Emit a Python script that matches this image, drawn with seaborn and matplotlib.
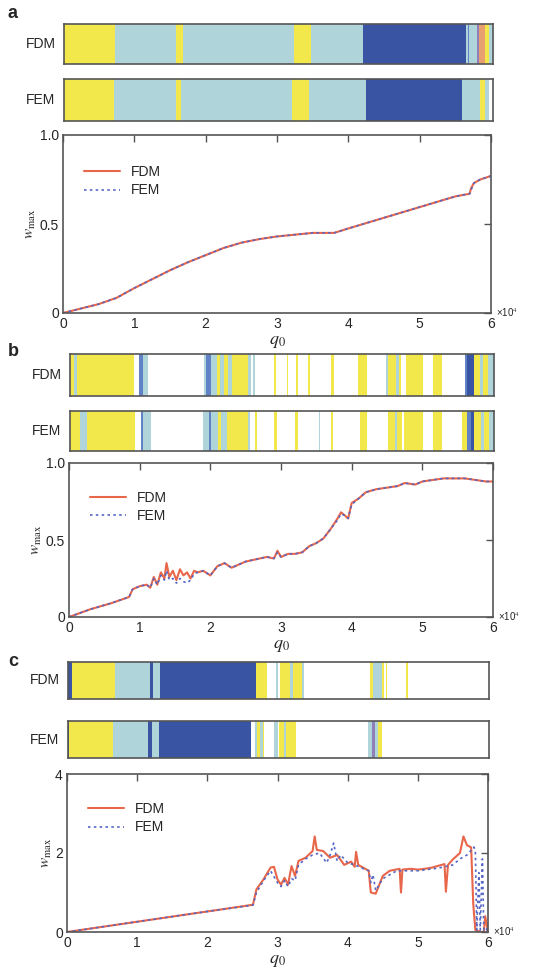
import matplotlib
matplotlib.use("Agg")
import matplotlib.pyplot as plt
import numpy as np
import pandas as pd
import seaborn as sns

# --- strip data: edges in q0 (x1e4), one state per segment ---
# Y yellow, L light blue, D dark blue, M mid blue, P purple, O orange, W empty
a_fdm_edges = [0, 0.72, 1.56, 1.66, 3.21, 3.45, 4.18, 5.62, 5.645, 5.67, 5.78, 5.81, 5.89, 5.94, 6.0]
a_fdm_states = ["Y", "L", "Y", "L", "Y", "L", "D", "L", "M", "L", "P", "O", "Y", "L"]
a_fem_edges = [0, 0.70, 1.56, 1.64, 3.19, 3.43, 4.22, 5.57, 5.82, 5.89, 5.95, 6.0]
a_fem_states = ["Y", "L", "Y", "L", "Y", "L", "D", "L", "Y", "L", "W"]

b_fdm_edges = [0, 0.06, 0.10, 0.90, 0.98, 1.03, 1.11, 1.89, 1.93, 2.00, 2.08, 2.12,
               2.18, 2.24, 2.29, 2.52, 2.56, 2.59, 2.62, 2.89, 2.92, 3.07, 3.09, 3.20,
               3.23, 3.37, 3.40, 3.70, 3.74, 4.08, 4.20, 4.47, 4.50, 4.62, 4.65, 4.69,
               4.75, 4.99, 5.14, 5.26, 5.59, 5.62, 5.71, 5.80, 5.85, 5.92, 6.0]
b_fdm_states = ["Y", "L", "Y", "W", "M", "L", "W", "L", "M", "L", "Y", "L",
                "Y", "L", "Y", "L", "W", "L", "W", "Y", "W", "Y", "W", "Y",
                "W", "Y", "W", "Y", "W", "Y", "W", "L", "Y", "L", "Y", "W",
                "Y", "W", "Y", "W", "M", "D", "Y", "L", "Y", "L"]
b_fem_edges = [0, 0.14, 0.24, 0.92, 1.00, 1.04, 1.14, 1.88, 1.96, 2.00, 2.10, 2.14,
               2.22, 2.52, 2.55, 2.62, 2.64, 2.88, 2.93, 3.18, 3.22, 3.52, 3.54, 3.69,
               3.72, 4.10, 4.20, 4.50, 4.60, 4.63, 4.70, 4.73, 4.99, 5.14, 5.26, 5.55,
               5.62, 5.67, 5.71, 5.82, 5.86, 5.93, 6.0]
b_fem_states = ["Y", "L", "Y", "W", "M", "L", "W", "L", "M", "L", "Y", "L",
                "Y", "L", "W", "Y", "W", "Y", "W", "Y", "W", "L", "W", "Y",
                "W", "Y", "W", "Y", "L", "Y", "W", "Y", "W", "Y", "W",
                "Y", "M", "D", "Y", "L", "Y", "L"]

c_fdm_edges = [0, 0.05, 0.67, 1.17, 1.21, 1.31, 2.68, 2.83, 2.97, 2.99, 3.02, 3.16,
               3.21, 3.33, 3.36, 4.31, 4.35, 4.47, 4.50, 4.53, 4.55, 4.82, 4.84, 6.0]
c_fdm_states = ["D", "Y", "L", "D", "L", "D", "Y", "W", "L", "W", "Y",
                "L", "Y", "L", "W", "Y", "L", "Y", "W", "Y", "W", "Y", "W"]
c_fem_edges = [0, 0.02, 0.64, 1.14, 1.20, 1.30, 2.61, 2.66, 2.69, 2.74, 2.78, 2.80,
               2.94, 3.00, 3.08, 3.11, 3.25, 4.28, 4.33, 4.38, 4.42, 4.47, 6.0]
c_fem_states = ["D", "Y", "L", "D", "L", "D", "W", "L", "Y", "L", "Y",
                "W", "L", "Y", "L", "Y", "W", "L", "P", "L", "Y", "W"]

# --- w_max curves ---
a_q = [0, 0.25, 0.5, 0.75, 1.0, 1.25, 1.5, 1.75, 2.0, 2.25, 2.5, 2.75, 3.0, 3.25,
       3.5, 3.8, 4.0, 4.25, 4.5, 4.75, 5.0, 5.25, 5.5, 5.7, 5.72, 5.76, 5.85, 6.0]
a_fdm = [0, 0.025, 0.05, 0.085, 0.14, 0.19, 0.24, 0.285, 0.325, 0.365, 0.395, 0.415,
         0.43, 0.44, 0.45, 0.45, 0.475, 0.505, 0.535, 0.565, 0.595, 0.625, 0.655,
         0.67, 0.70, 0.73, 0.75, 0.77]
a_fem = [0, 0.025, 0.05, 0.085, 0.14, 0.19, 0.24, 0.285, 0.325, 0.365, 0.395, 0.415,
         0.43, 0.44, 0.45, 0.45, 0.475, 0.505, 0.535, 0.565, 0.595, 0.625, 0.655,
         0.67, 0.69, 0.73, 0.75, 0.77]

b_q = [0, 0.3, 0.6, 0.85, 0.9, 1.0, 1.1, 1.15, 1.2, 1.25, 1.3, 1.35, 1.38, 1.42, 1.47,
       1.52, 1.57, 1.62, 1.67, 1.72, 1.77, 1.82, 1.9, 2.0, 2.1, 2.2, 2.3, 2.4, 2.5, 2.6,
       2.7, 2.8, 2.9, 2.95, 3.0, 3.1, 3.2, 3.3, 3.4, 3.5, 3.6, 3.7, 3.8, 3.85, 3.9,
       3.95, 4.0, 4.1, 4.2, 4.35, 4.5, 4.65, 4.75, 4.9, 5.0, 5.15, 5.3, 5.45, 5.6,
       5.75, 5.9, 6.0]
b_fdm = [0, 0.05, 0.09, 0.13, 0.18, 0.20, 0.21, 0.19, 0.26, 0.21, 0.29, 0.25, 0.35,
         0.26, 0.30, 0.24, 0.31, 0.27, 0.29, 0.25, 0.30, 0.29, 0.30, 0.27, 0.33, 0.35,
         0.32, 0.34, 0.36, 0.37, 0.38, 0.39, 0.38, 0.43, 0.39, 0.41, 0.41, 0.42, 0.46,
         0.48, 0.51, 0.57, 0.64, 0.68, 0.66, 0.64, 0.74, 0.77, 0.81, 0.83, 0.84, 0.85,
         0.87, 0.86, 0.88, 0.89, 0.90, 0.90, 0.90, 0.89, 0.88, 0.88]
b_fem = [0, 0.05, 0.09, 0.13, 0.18, 0.20, 0.21, 0.19, 0.25, 0.21, 0.27, 0.24, 0.30,
         0.24, 0.25, 0.22, 0.25, 0.23, 0.22, 0.24, 0.28, 0.29, 0.30, 0.27, 0.33, 0.35,
         0.32, 0.34, 0.36, 0.37, 0.38, 0.39, 0.38, 0.42, 0.39, 0.41, 0.41, 0.42, 0.46,
         0.48, 0.51, 0.57, 0.63, 0.67, 0.66, 0.64, 0.73, 0.77, 0.81, 0.83, 0.84, 0.85,
         0.87, 0.86, 0.88, 0.89, 0.90, 0.90, 0.90, 0.89, 0.88, 0.88]

c_q = [0, 1.0, 2.0, 2.65, 2.7, 2.8, 2.9, 2.95, 3.0, 3.05, 3.1, 3.15, 3.2, 3.25, 3.3,
       3.4, 3.5, 3.53, 3.56, 3.65, 3.75, 3.85, 3.95, 4.05, 4.1, 4.12, 4.15, 4.25, 4.3,
       4.33, 4.4, 4.5, 4.6, 4.74, 4.76, 4.78, 4.9, 5.0, 5.1, 5.2, 5.3, 5.38, 5.4, 5.43,
       5.5, 5.6, 5.65, 5.7, 5.76, 5.79, 5.82, 5.9, 5.94, 5.96, 6.0]
c_fdm = [0, 0.26, 0.52, 0.69, 1.08, 1.33, 1.63, 1.65, 1.33, 1.20, 1.37, 1.20, 1.67,
         1.42, 1.80, 1.88, 2.05, 2.42, 2.08, 2.05, 1.88, 1.95, 1.70, 1.78, 1.65, 2.03,
         1.70, 1.60, 1.55, 1.00, 0.97, 1.42, 1.55, 1.60, 1.00, 1.58, 1.60, 1.58, 1.60,
         1.63, 1.68, 1.72, 1.02, 1.70, 1.84, 2.00, 2.42, 2.20, 2.14, 0.70, 0.05, 0.0,
         0.0, 0.40, 0.0]
c_fem_q = [0, 1.0, 2.0, 2.65, 2.7, 2.8, 2.9, 3.0, 3.05, 3.1, 3.15, 3.2, 3.25, 3.3, 3.4,
           3.5, 3.6, 3.7, 3.75, 3.8, 3.85, 3.9, 4.0, 4.1, 4.2, 4.3, 4.33, 4.36, 4.4, 4.5,
           4.7, 5.0, 5.3, 5.5, 5.6, 5.7, 5.8, 5.82, 5.84, 5.87, 5.89, 5.92, 5.94, 5.97, 6.0]
c_fem = [0, 0.26, 0.52, 0.68, 1.0, 1.30, 1.55, 1.25, 1.15, 1.30, 1.15, 1.35, 1.30, 1.70,
         1.85, 1.95, 2.0, 1.75, 1.95, 2.25, 1.80, 1.95, 1.75, 1.70, 1.62, 1.55, 1.25,
         1.45, 1.05, 1.35, 1.55, 1.55, 1.62, 1.70, 1.85, 1.95, 2.15, 2.05, 0.05, 1.50,
         0.05, 1.85, 0.05, 0.10, 0.0]

STATE_COLORS = {"Y": "#F2E84B", "L": "#AFD5DB", "D": "#3954A2", "M": "#6183C6",
                "P": "#8E7FB8", "O": "#E9A070", "W": "white"}
FDM_COLOR = "#E8664A"
FEM_COLOR = "#5566C4"
FRAME = "#555555"
W, H = 558, 976

sns.set_theme(style="white")
plt.rcParams["font.family"] = ["Liberation Sans", "DejaVu Sans"]
plt.rcParams["mathtext.fontset"] = "stix"

fig = plt.figure(figsize=(W / 100, H / 100), dpi=100)


def px_axes(x0, y0, x1, y1):
    """Axes from pixel box (top-left origin)."""
    return fig.add_axes([x0 / W, 1 - y1 / H, (x1 - x0) / W, (y1 - y0) / H])


def draw_strip(ax, edges, states, label):
    for x0, x1, s in zip(edges[:-1], edges[1:], states):
        if s != "W":
            ax.axvspan(x0, x1, color=STATE_COLORS[s], lw=0)
    ax.set_xlim(0, 6)
    ax.set_ylim(0, 1)
    ax.set_xticks([])
    ax.set_yticks([])
    for sp in ax.spines.values():
        sp.set_color(FRAME)
        sp.set_linewidth(1.2)
    ax.text(-0.02, 0.5, label, transform=ax.transAxes, ha="right", va="center",
            fontsize=10)


def draw_curves(ax, q, fdm, fem, yticks, yticklabels, q_fem=None):
    q_fem = q if q_fem is None else q_fem
    d1 = pd.DataFrame({"q0": q, "w": fdm})
    d2 = pd.DataFrame({"q0": q_fem, "w": fem})
    sns.lineplot(data=d1, x="q0", y="w", ax=ax, color=FDM_COLOR, lw=1.5,
                 estimator=None, sort=False, label="FDM")
    sns.lineplot(data=d2, x="q0", y="w", ax=ax, color=FEM_COLOR, lw=1.2,
                 linestyle=(0, (1.5, 2)), estimator=None, sort=False, label="FEM")
    ax.set_xlim(0, 6)
    ax.set_ylim(yticks[0], yticks[-1])
    ax.set_xticks(range(7))
    ax.set_xticklabels([str(i) for i in range(7)])
    ax.set_yticks(yticks)
    ax.set_yticklabels(yticklabels)
    ax.tick_params(direction="in", top=True, right=True, length=5, width=1,
                   color=FRAME, labelsize=10, pad=3)
    for sp in ax.spines.values():
        sp.set_color(FRAME)
        sp.set_linewidth(1.2)
    ax.set_xlabel(r"$q_0$", fontsize=13, labelpad=1.5)
    ax.set_ylabel(r"$w_{\rm max}$", fontsize=11, labelpad=1)
    ax.text(1.012, 0.0, "×10$^4$", transform=ax.transAxes, ha="left",
            va="center", fontsize=7)
    ax.legend(loc="upper left", bbox_to_anchor=(0.02, 0.9), frameon=False,
              fontsize=10, handlelength=2.6, labelspacing=0.3)


# panel a
draw_strip(px_axes(64, 24, 493, 64), a_fdm_edges, a_fdm_states, "FDM")
draw_strip(px_axes(64, 79, 493, 121), a_fem_edges, a_fem_states, "FEM")
draw_curves(px_axes(63, 135, 491, 313), a_q, a_fdm, a_fem,
            [0, 0.5, 1.0], ["0", "0.5", "1.0"])

# panel b
draw_strip(px_axes(70, 354, 494, 396), b_fdm_edges, b_fdm_states, "FDM")
draw_strip(px_axes(70, 411, 494, 451), b_fem_edges, b_fem_states, "FEM")
draw_curves(px_axes(69, 463, 493, 617), b_q, b_fdm, b_fem,
            [0, 0.5, 1.0], ["0", "0.5", "1.0"])

# panel c
draw_strip(px_axes(68, 662, 489, 699), c_fdm_edges, c_fdm_states, "FDM")
draw_strip(px_axes(68, 721, 489, 758), c_fem_edges, c_fem_states, "FEM")
draw_curves(px_axes(67, 774, 488, 932), c_q, c_fdm, c_fem,
            [0, 2, 4], ["0", "2", "4"], q_fem=c_fem_q)

for letter, ypx in [("a", 14), ("b", 352), ("c", 661)]:
    fig.text(8 / W, 1 - ypx / H, letter, fontsize=13, fontweight="bold",
             ha="left", va="center")

fig.savefig("out.png", dpi=100)
